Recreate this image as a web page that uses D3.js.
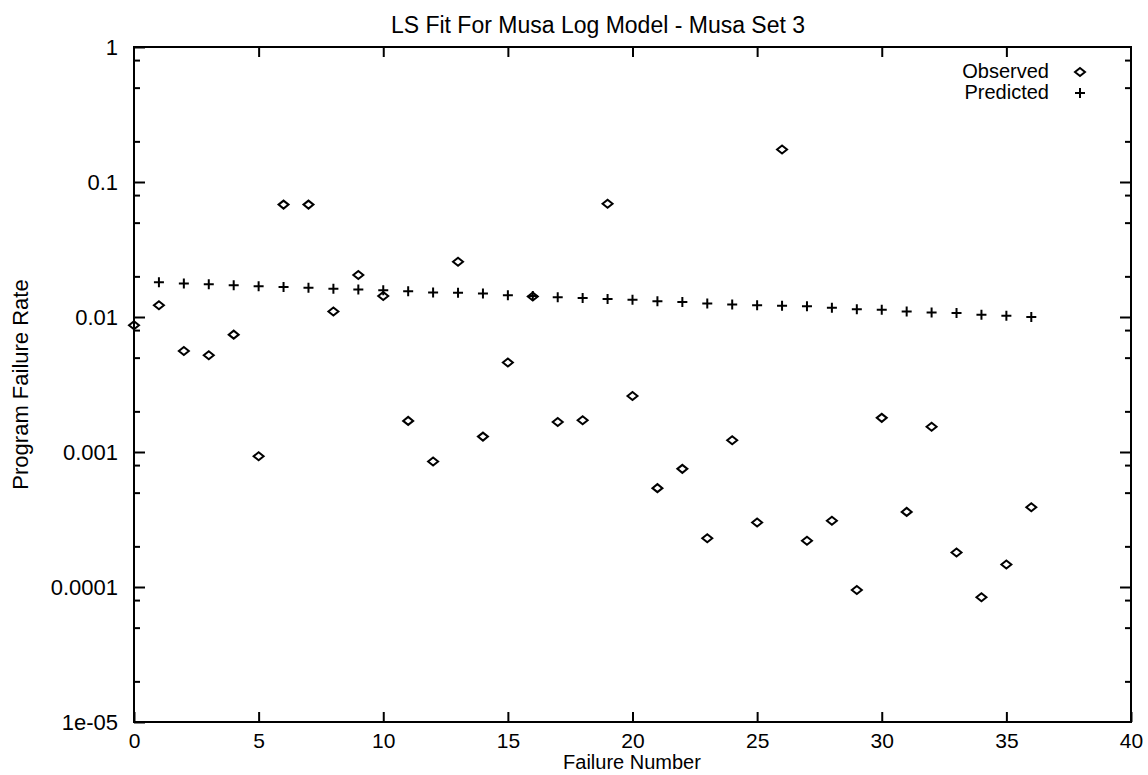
<!DOCTYPE html>
<html>
<head>
<meta charset="utf-8">
<script src="https://d3js.org/d3.v7.min.js"></script>
<style>
  body { margin: 0; background: #fff; }
  text { font-family: "Liberation Sans", Arial, Helvetica, sans-serif; fill: #000; }
</style>
</head>
<body>
<svg width="1148" height="775"></svg>
<script>
// failure numbers
var failureNo = [0, 1, 2, 3, 4, 5, 6, 7, 8, 9, 10, 11, 12, 13, 14, 15, 16, 17, 18,
                 19, 20, 21, 22, 23, 24, 25, 26, 27, 28, 29, 30, 31, 32, 33, 34, 35, 36]

// observed failure rate
var observed = [0.0087, 0.0122, 0.0056, 0.0052, 0.0074, 0.00093, 0.068, 0.068, 0.011,
                0.0205, 0.0143, 0.0017, 0.00085, 0.0257, 0.0013, 0.0046, 0.0142, 0.00167,
                0.00172, 0.069, 0.0026, 0.00054, 0.00075, 0.00023, 0.00122, 0.0003, 0.174,
                0.00022, 0.00031, 0.000095, 0.00179, 0.00036, 0.00154, 0.00018, 0.000084,
                0.000147, 0.00039]

// predicted failure rate, failures 1..36
var predX = [1, 2, 3, 4, 5, 6, 7, 8, 9, 10, 11, 12, 13, 14, 15, 16, 17, 18,
             19, 20, 21, 22, 23, 24, 25, 26, 27, 28, 29, 30, 31, 32, 33, 34, 35, 36]
var predicted = [0.0181, 0.0177, 0.0175, 0.0172, 0.0169, 0.0167, 0.0165, 0.0162, 0.016,
                 0.0158, 0.0155, 0.0152, 0.0151, 0.0149, 0.0145, 0.0143, 0.014, 0.0138,
                 0.0136, 0.0134, 0.0131, 0.0129, 0.0126, 0.0124, 0.0122, 0.0121, 0.012,
                 0.0117, 0.0114, 0.0113, 0.011, 0.0108, 0.0107, 0.0104, 0.0102, 0.01]

var xTicks = [0, 5, 10, 15, 20, 25, 30, 35, 40]
var yTicks = [1, 0.1, 0.01, 0.001, 0.0001, 0.00001]
var yTickLabels = ["1", "0.1", "0.01", "0.001", "0.0001", "1e-05"]
var minorMult = [2, 5, 8]

var svg = d3.select('svg')
var pl = 134, pr = 1131, pt = 47, pb = 722
var fs = '22px'

var x = d3.scaleLinear().domain([0, 40]).range([pl, pr])
var y = d3.scaleLog().domain([0.00001, 1]).range([pb, pt])

var yMinor = []
yTicks.slice(0, -1).forEach(function(d) {
  minorMult.forEach(function(m) { yMinor.push(d / 10 * m) })
})

// frame
svg.append('rect')
  .attr('x', pl).attr('y', pt)
  .attr('width', pr - pl).attr('height', pb - pt)
  .attr('fill', 'none').attr('stroke', '#000').attr('stroke-width', 2)

function styleAxis(g) {
  g.select('.domain').remove()
  g.selectAll('.tick line').attr('stroke', '#000').attr('stroke-width', 2)
}

// x axis, ticks inward
svg.append('g')
  .attr('transform', 'translate(0,' + pb + ')')
  .call(d3.axisBottom(x).tickValues(xTicks).tickSize(-10).tickPadding(11).tickFormat(d3.format('d')))
  .call(styleAxis)
  .selectAll('text').style('font-size', '21px').attr('dy', '0.71em')

svg.append('g')
  .attr('transform', 'translate(0,' + pt + ')')
  .call(d3.axisTop(x).tickValues(xTicks.slice(1, -1)).tickSize(-10).tickFormat(''))
  .call(styleAxis)

// y axis
svg.append('g')
  .attr('transform', 'translate(' + pl + ',0)')
  .call(d3.axisLeft(y).tickValues(yTicks).tickSize(-11).tickPadding(16)
    .tickFormat(function(d, i) { return yTickLabels[i] }))
  .call(styleAxis)
  .selectAll('text').style('font-size', fs)

svg.append('g')
  .attr('transform', 'translate(' + pl + ',0)')
  .call(d3.axisLeft(y).tickValues(yMinor).tickSize(-6).tickFormat(''))
  .call(styleAxis)

svg.append('g')
  .attr('transform', 'translate(' + pr + ',0)')
  .call(d3.axisRight(y).tickValues(yTicks.slice(1, -1)).tickSize(-11).tickFormat(''))
  .call(styleAxis)

svg.append('g')
  .attr('transform', 'translate(' + pr + ',0)')
  .call(d3.axisRight(y).tickValues(yMinor).tickSize(-6).tickFormat(''))
  .call(styleAxis)

// titles
svg.append('text')
  .attr('x', 598).attr('y', 33)
  .attr('text-anchor', 'middle')
  .style('font-size', '23px')
  .text('LS Fit For Musa Log Model - Musa Set 3')

svg.append('text')
  .attr('x', 632).attr('y', 769)
  .attr('text-anchor', 'middle')
  .style('font-size', '20px')
  .text('Failure Number')

svg.append('text')
  .attr('transform', 'translate(28,' + ((pt + pb) / 2) + ') rotate(-90)')
  .attr('text-anchor', 'middle')
  .style('font-size', fs)
  .text('Program Failure Rate')

var diamond = 'M0,-4L5,0L0,4L-5,0Z'
var plus = 'M-5,0H5M0,-5V5'

// observed
svg.append('g').selectAll('path')
  .data(observed)
  .join('path')
  .attr('transform', function(d, i) { return 'translate(' + x(failureNo[i]) + ',' + y(d) + ')' })
  .attr('d', diamond)
  .attr('fill', 'none').attr('stroke', '#000').attr('stroke-width', 2)

// predicted
svg.append('g').selectAll('path')
  .data(predicted)
  .join('path')
  .attr('transform', function(d, i) { return 'translate(' + x(predX[i]) + ',' + y(d) + ')' })
  .attr('d', plus)
  .attr('fill', 'none').attr('stroke', '#000').attr('stroke-width', 2)

// legend
var legend = svg.append('g')
legend.append('text').attr('x', 1049).attr('y', 78).attr('text-anchor', 'end')
  .style('font-size', '20px').text('Observed')
legend.append('path').attr('transform', 'translate(1080,72)').attr('d', diamond)
  .attr('fill', 'none').attr('stroke', '#000').attr('stroke-width', 2)
legend.append('text').attr('x', 1049).attr('y', 99).attr('text-anchor', 'end')
  .style('font-size', '20px').text('Predicted')
legend.append('path').attr('transform', 'translate(1080,93)').attr('d', plus)
  .attr('fill', 'none').attr('stroke', '#000').attr('stroke-width', 2)
</script>
</body>
</html>
